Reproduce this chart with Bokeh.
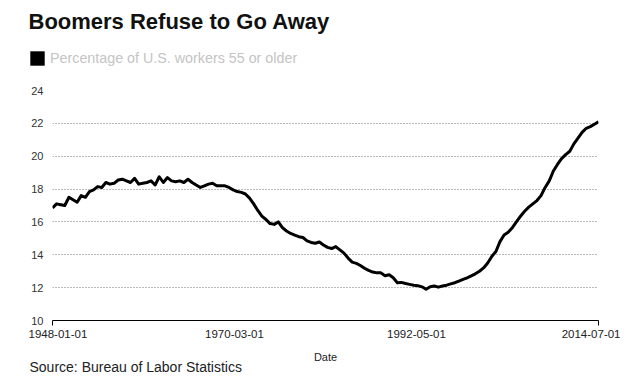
import pandas as pd
from bokeh.plotting import figure
from bokeh.models import (ColumnDataSource, FixedTicker, DatetimeTickFormatter, Legend,
                          LegendItem, Title, Spacer, Range1d)
from bokeh.layouts import row, column
from bokeh.embed import file_html
from bokeh.resources import INLINE

title_text = "Boomers Refuse to Go Away"
series_name = "Percentage of U.S. workers 55 or older"
source_text = "Source: Bureau of Labor Statistics"
x_label = "Date"
start_date = "1948-01-01"
end_date = "2014-07-01"
tick_dates = ["1948-01-01", "1970-03-01", "1992-05-01", "2014-07-01"]
y_ticks = [10, 12, 14, 16, 18, 20, 22, 24]

# semi-annual readings (January / July), 1948-01 .. 2014-07
share_55_plus = [
    16.85, 17.1, 17.05, 17.0, 17.5, 17.35, 17.2, 17.6, 17.5, 17.85,   # 1948-1952
    17.95, 18.15, 18.1, 18.4, 18.3, 18.35, 18.55, 18.6, 18.5, 18.4,   # 1953-1957
    18.65, 18.3, 18.35, 18.4, 18.5, 18.25, 18.75, 18.4, 18.7, 18.5,   # 1958-1962
    18.45, 18.5, 18.4, 18.6, 18.4, 18.25, 18.1, 18.2, 18.3, 18.35,    # 1963-1967
    18.2, 18.2, 18.2, 18.1, 17.95, 17.85, 17.8, 17.7, 17.45, 17.1,    # 1968-1972
    16.7, 16.35, 16.15, 15.9, 15.85, 16.0, 15.65, 15.45, 15.3, 15.2,  # 1973-1977
    15.1, 15.05, 14.85, 14.75, 14.7, 14.78, 14.6, 14.45, 14.38, 14.5, # 1978-1982
    14.3, 14.1, 13.8, 13.55, 13.48, 13.35, 13.18, 13.05, 12.95, 12.9, # 1983-1987
    12.9, 12.72, 12.78, 12.6, 12.3, 12.32, 12.25, 12.2, 12.15, 12.12, # 1988-1992
    12.05, 11.9, 12.05, 12.1, 12.03, 12.1, 12.15, 12.23, 12.3, 12.4,  # 1993-1997
    12.5, 12.6, 12.72, 12.84, 13.0, 13.2, 13.5, 13.9, 14.2, 14.8,     # 1998-2002
    15.2, 15.37, 15.65, 16.0, 16.35, 16.65, 16.9, 17.1, 17.3, 17.6,   # 2003-2007
    18.1, 18.5, 19.1, 19.5, 19.85, 20.1, 20.3, 20.75, 21.1, 21.45,    # 2008-2012
    21.7, 21.8, 21.95, 22.1,                                          # 2013-2014
]

dates = pd.date_range(start_date, end_date, freq="6MS")
src = ColumnDataSource(dict(date=dates, value=share_55_plus))

def ms(d):
    return pd.Timestamp(d).value / 1e6

FONT = "Liberation Sans"

# ---------------- header: title + legend ----------------
h = figure(width=591, height=82, output_backend="svg", toolbar_location=None,
           x_axis_location=None, y_axis_location=None,
           min_border_left=0, min_border_right=0, min_border_top=35, min_border_bottom=0)
h.outline_line_color = None
h.grid.visible = False
h.title.text = title_text
h.title.text_font = FONT
h.title.text_font_size = "22px"
h.title.text_font_style = "bold"
h.title.text_color = "#111111"
h.title.align = "left"
h.title.offset = 7
h.title.standoff = 4

# zero-height area along the series: draws nothing, gives the legend its black square key
key = h.varea(x="date", y1="value", y2="value", source=src, fill_color="black")
legend = Legend(items=[LegendItem(label=series_name, renderers=[key])],
                location=(7, 15), orientation="horizontal",
                border_line_color=None, background_fill_alpha=0,
                padding=0, margin=0, spacing=0, glyph_width=18, glyph_height=18,
                label_text_font=FONT, label_text_font_size="14.3px",
                label_text_color="#c4c4c4", label_standoff=4)
h.add_layout(legend, "center")

# ---------------- main chart ----------------
p = figure(frame_width=546, frame_height=230, x_axis_type="datetime", output_backend="svg",
           toolbar_location=None,
           x_range=Range1d(ms(start_date), ms(end_date)), y_range=Range1d(10, 24),
           min_border_left=23, min_border_right=22, min_border_top=8, min_border_bottom=56)
p.outline_line_color = None
p.background_fill_color = "white"

xa = p.xaxis[0]
xa.ticker = FixedTicker(ticks=[ms(d) for d in tick_dates], minor_ticks=[ms(start_date), ms(end_date)])
xa.formatter = DatetimeTickFormatter(milliseconds="%Y-%m-%d", seconds="%Y-%m-%d", minsec="%Y-%m-%d",
                                     minutes="%Y-%m-%d", hourmin="%Y-%m-%d", hours="%Y-%m-%d",
                                     days="%Y-%m-%d", months="%Y-%m-%d", years="%Y-%m-%d")
xa.axis_line_color = "black"
xa.major_tick_line_color = None
xa.minor_tick_line_color = "black"
xa.minor_tick_out = 5
xa.minor_tick_in = 0
xa.major_tick_out = 0
xa.major_tick_in = 0
xa.major_label_text_font = FONT
xa.major_label_text_font_size = "11.5px"
xa.major_label_text_color = "#222222"
xa.major_label_standoff = 4
xa.axis_label = x_label
xa.axis_label_text_font = FONT
xa.axis_label_text_font_size = "11px"
xa.axis_label_text_font_style = "normal"
xa.axis_label_text_color = "#222222"
xa.axis_label_standoff = 10

ya = p.yaxis[0]
ya.ticker = FixedTicker(ticks=y_ticks)
ya.axis_line_color = None
ya.major_tick_line_color = None
ya.minor_tick_line_color = None
ya.major_tick_out = 0
ya.major_tick_in = 0
ya.minor_tick_out = 0
ya.minor_tick_in = 0
ya.major_label_text_font = FONT
ya.major_label_text_font_size = "11px"
ya.major_label_text_color = "#333333"
ya.major_label_standoff = 9

p.xgrid.grid_line_color = None
p.ygrid.ticker = FixedTicker(ticks=y_ticks[1:])
p.ygrid.grid_line_color = "#777777"
p.ygrid.grid_line_dash = "1 2"
p.ygrid.grid_line_width = 1

p.line(x="date", y="value", source=src, line_color="black", line_width=3, line_join="round")

p.add_layout(Title(text=source_text, text_font=FONT, text_font_size="14px",
                   text_font_style="normal", text_color="#222222", align="left",
                   offset=-23, standoff=-17), "below")

layout = column(row(Spacer(width=21, height=10), h, spacing=0),
                row(Spacer(width=28, height=10), p, spacing=0), spacing=0)
open("out.html", "w").write(file_html(layout, INLINE))
